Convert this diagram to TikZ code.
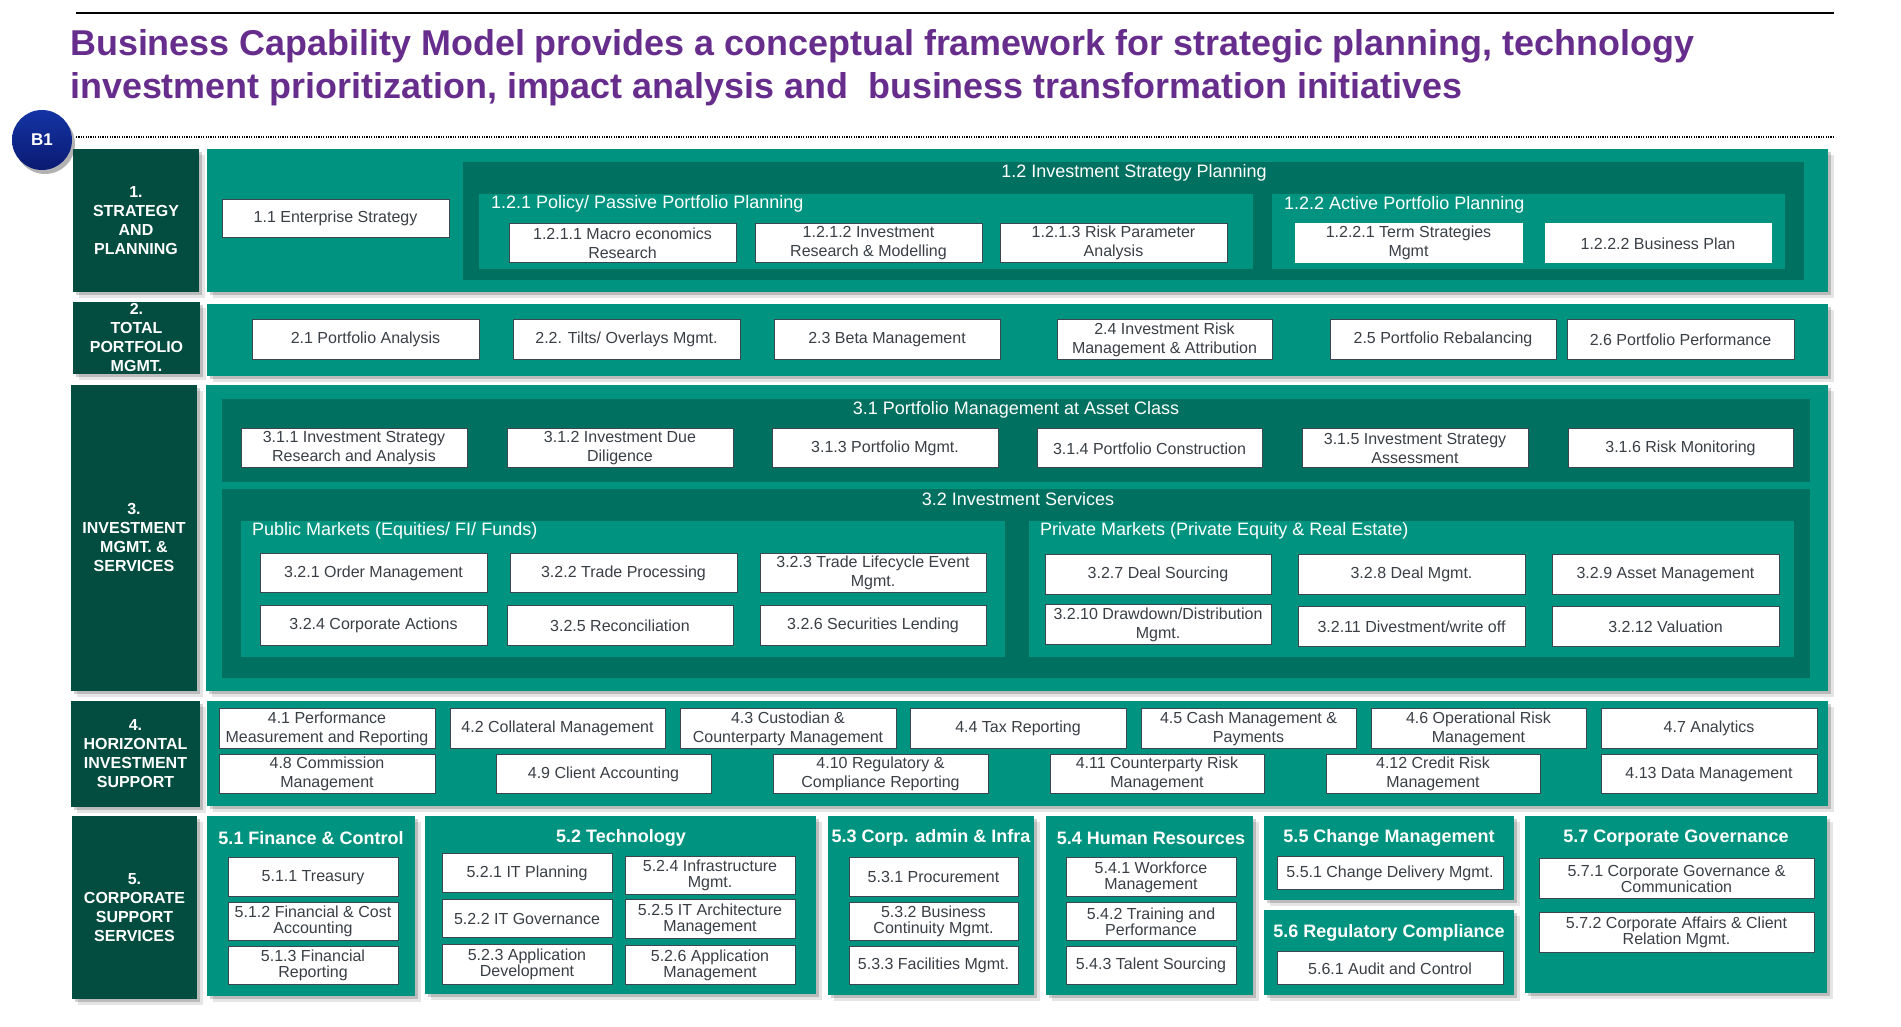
\documentclass[tikz,border=0pt]{standalone}
\usepackage{fontspec}
\setmainfont{Liberation Sans}
\usetikzlibrary{shadows}
\definecolor{tealA}{HTML}{009480}
\definecolor{tealD}{HTML}{007060}
\definecolor{lblG}{HTML}{024C40}
\definecolor{ttlP}{HTML}{662D8C}
\definecolor{bdrG}{HTML}{3C4650}
\definecolor{txtG}{HTML}{3A3F45}
\definecolor{navyA}{HTML}{1434A4}
\definecolor{navyB}{HTML}{0A1A72}
\tikzset{
  shd/.style={drop shadow={shadow xshift=3pt,shadow yshift=-3pt,opacity=0.18,fill=black},
              drop shadow={shadow xshift=6pt,shadow yshift=-6pt,opacity=0.10,fill=black}},
  cbox/.style={draw=bdrG, line width=1pt, fill=white, text=txtG, font=\fontsize{16}{19}\selectfont,
               align=center, inner sep=0pt, outer sep=0pt},
  tbox/.style={cbox, font=\fontsize{16}{16}\selectfont},
  nbox/.style={cbox, draw=white},
  lblbox/.style={fill=lblG, text=white, font=\bfseries\fontsize{16}{19}\selectfont, align=center,
                 inner sep=0pt, shd},
  rowbox/.style={fill=tealA, inner sep=0pt, shd},
  grpbox/.style={fill=tealA, inner sep=0pt, shd},
  darkbox/.style={fill=tealD, inner sep=0pt},
  subbox/.style={fill=tealA, inner sep=0pt},
  hdr/.style={text=white, font=\fontsize{18}{21}\selectfont, inner sep=0pt},
  bhdr/.style={text=white, font=\bfseries\fontsize{18}{21}\selectfont, inner sep=0pt},
}
% [style]{name}{x1}{y1}{x2}{y2}{text}
\newcommand\mybox[7][cbox]{\node[#1,minimum width={#5-#3},minimum height={#6-#4}] (#2) at ({(#3+#5)/2},{(#4+#6)/2+0.8}) {#7};}
\begin{document}
\begin{tikzpicture}[x=1pt,y=-1pt]
\useasboundingbox (0,0) rectangle (1901,1026);
\fill[white] (0,0) rectangle (1901,1026);
% title area
\coordinate (tl1) at (76,12.7);
\coordinate (tl2) at (1834,12.7);
\draw[line width=2pt] (tl1) -- (tl2);
\node[anchor=base west, text=ttlP, font=\bfseries\fontsize{35.9}{43}\selectfont, inner sep=0pt] (title1) at (70,55)
  {Business Capability Model provides a conceptual framework for strategic planning, technology};
\node[anchor=base west, text=ttlP, font=\bfseries\fontsize{35.9}{43}\selectfont, inner sep=0pt] (title2) at (70,98)
  {investment prioritization, impact analysis and \ business transformation initiatives};
\coordinate (dl1) at (76,137);
\coordinate (dl2) at (1835,137);
\draw[line width=1.3pt, dash pattern=on 1.2pt off 1.2pt] (dl1) -- (dl2);
\node[circle, minimum size=60pt, inner sep=0pt, top color=navyA, bottom color=navyB,
      drop shadow={shadow xshift=3pt,shadow yshift=-4pt,opacity=0.3,fill=black},
      text=white, font=\bfseries\fontsize{17}{20}\selectfont] (b1) at (42,140) {B1};

% ===== Row 1
\mybox[lblbox]{lab1}{73}{148}{199}{291}{1.\\STRATEGY\\AND\\PLANNING}
\mybox[rowbox]{row1}{207}{148}{1828}{291}{}
\mybox{b11}{222}{199}{449}{237}{1.1 Enterprise Strategy}
\mybox[darkbox]{d12}{463}{161}{1804}{279}{}
\mybox[subbox]{t121}{479}{193}{1253}{268}{}
\mybox[subbox]{t122}{1272}{193}{1785}{268}{}
\node[hdr] (h12) at (1134,173) {1.2 Investment Strategy Planning};
\node[hdr, anchor=west] (h121) at (491,204) {1.2.1 Policy/ Passive Portfolio Planning};
\node[hdr, anchor=west] (h122) at (1284,205) {1.2.2 Active Portfolio Planning};
\mybox{b1211}{509}{223}{736}{262}{1.2.1.1 Macro economics\\Research}
\mybox{b1212}{755}{223}{982}{262}{1.2.1.2 Investment\\Research \& Modelling}
\mybox{b1213}{1000}{223}{1227}{262}{1.2.1.3 Risk Parameter\\Analysis}
\mybox[nbox]{b1221}{1295}{223}{1522}{262}{1.2.2.1 Term Strategies\\Mgmt}
\mybox[nbox]{b1222}{1545}{223}{1771}{262}{1.2.2.2 Business Plan}

% ===== Row 2
\mybox[lblbox]{lab2}{73}{301}{200}{373}{2.\\TOTAL\\PORTFOLIO\\MGMT.}
\mybox[rowbox]{row2}{207}{303}{1828}{375}{}
\mybox{b21}{252}{319}{479}{359}{2.1 Portfolio Analysis}
\mybox{b22}{513}{319}{740}{359}{2.2. Tilts/ Overlays Mgmt.}
\mybox{b23}{774}{319}{1000}{359}{2.3 Beta Management}
\mybox{b24}{1057}{319}{1272}{359}{2.4 Investment Risk\\Management \& Attribution}
\mybox{b25}{1330}{319}{1556}{359}{2.5 Portfolio Rebalancing}
\mybox{b26}{1567}{319}{1794}{359}{2.6 Portfolio Performance}

% ===== Row 3
\mybox[lblbox]{lab3}{71}{384}{197}{690}{3.\\INVESTMENT\\MGMT. \&\\SERVICES}
\mybox[rowbox]{row3}{206}{384}{1828}{690}{}
\mybox[darkbox]{d31}{222}{398}{1810}{481}{}
\node[hdr] (h31) at (1016,410) {3.1 Portfolio Management at Asset Class};
\mybox{b311}{241}{428}{467}{467}{3.1.1 Investment Strategy\\Research and Analysis}
\mybox{b312}{507}{428}{733}{467}{3.1.2 Investment Due\\Diligence}
\mybox{b313}{772}{428}{998}{467}{3.1.3 Portfolio Mgmt.}
\mybox{b314}{1037}{428}{1262}{467}{3.1.4 Portfolio Construction}
\mybox{b315}{1302}{428}{1528}{467}{3.1.5 Investment Strategy\\Assessment}
\mybox{b316}{1568}{428}{1793}{467}{3.1.6 Risk Monitoring}
\mybox[darkbox]{d32}{222}{488}{1810}{677}{}
\node[hdr] (h32) at (1018,499) {3.2 Investment Services};
\mybox[subbox]{pub}{241}{520}{1005}{656}{}
\mybox[subbox]{priv}{1029}{520}{1794}{656}{}
\node[hdr, anchor=west] (hpub) at (252,531) {Public Markets (Equities/ FI/ Funds)};
\node[hdr, anchor=west] (hpriv) at (1040,531) {Private Markets (Private Equity \& Real Estate)};
\mybox{b321}{260}{553}{487}{592}{3.2.1 Order Management}
\mybox{b322}{510}{553}{737}{592}{3.2.2 Trade Processing}
\mybox{b323}{760}{553}{986}{592}{3.2.3 Trade Lifecycle Event\\Mgmt.}
\mybox{b324}{260}{605}{487}{645}{3.2.4 Corporate Actions}
\mybox{b325}{507}{605}{733}{645}{3.2.5 Reconciliation}
\mybox{b326}{760}{605}{986}{645}{3.2.6 Securities Lending}
\mybox{b327}{1045}{554}{1271}{594}{3.2.7 Deal Sourcing}
\mybox{b328}{1298}{554}{1525}{594}{3.2.8 Deal Mgmt.}
\mybox{b329}{1552}{554}{1779}{594}{3.2.9 Asset Management}
\mybox{b3210}{1045}{604}{1271}{644}{3.2.10 Drawdown/Distribution\\Mgmt.}
\mybox{b3211}{1298}{606}{1525}{646}{3.2.11 Divestment/write off}
\mybox{b3212}{1552}{606}{1779}{646}{3.2.12 Valuation}

% ===== Row 4
\mybox[lblbox]{lab4}{71}{700}{200}{806}{4.\\HORIZONTAL\\INVESTMENT\\SUPPORT}
\mybox[rowbox]{row4}{207}{700}{1828}{805}{}
\mybox{b41}{219}{708}{435}{748}{4.1 Performance\\Measurement and Reporting}
\mybox{b42}{450}{708}{665}{748}{4.2 Collateral Management}
\mybox{b43}{680}{708}{896}{748}{4.3 Custodian \&\\Counterparty Management}
\mybox{b44}{910}{708}{1126}{748}{4.4 Tax Reporting}
\mybox{b45}{1141}{708}{1356}{748}{4.5 Cash Management \&\\Payments}
\mybox{b46}{1371}{708}{1586}{748}{4.6 Operational Risk\\Management}
\mybox{b47}{1601}{708}{1817}{748}{4.7 Analytics}
\mybox{b48}{219}{754}{435}{793}{4.8 Commission\\Management}
\mybox{b49}{496}{754}{711}{793}{4.9 Client Accounting}
\mybox{b410}{773}{754}{988}{793}{4.10 Regulatory \&\\Compliance Reporting}
\mybox{b411}{1050}{754}{1264}{793}{4.11 Counterparty Risk\\Management}
\mybox{b412}{1326}{754}{1540}{793}{4.12 Credit Risk\\Management}
\mybox{b413}{1601}{754}{1817}{793}{4.13 Data Management}

% ===== Row 5
\mybox[lblbox]{lab5}{72}{815}{197}{998}{5.\\CORPORATE\\SUPPORT\\SERVICES}
% 5.1
\mybox[grpbox]{g51}{207}{815}{415}{995}{}
\node[bhdr] (h51) at (311,838) {5.1 Finance \& Control};
\mybox[tbox]{b511}{228}{857}{398}{896}{5.1.1 Treasury}
\mybox[tbox]{b512}{228}{902}{398}{940}{5.1.2 Financial \& Cost\\Accounting}
\mybox[tbox]{b513}{228}{946}{398}{984}{5.1.3 Financial\\Reporting}
% 5.2
\mybox[grpbox]{g52}{425}{815}{816}{993}{}
\node[bhdr] (h52) at (621,838) {5.2 Technology};
\mybox[tbox]{b521}{442}{853}{612}{892}{5.2.1 IT Planning}
\mybox[tbox]{b522}{442}{899}{612}{937}{5.2.2 IT Governance}
\mybox[tbox]{b523}{442}{944}{612}{984}{5.2.3 Application\\Development}
\mybox[tbox]{b524}{625}{856}{795}{894}{5.2.4 Infrastructure\\Mgmt.}
\mybox[tbox]{b525}{625}{899}{795}{938}{5.2.5 IT Architecture\\Management}
\mybox[tbox]{b526}{625}{945}{795}{984}{5.2.6 Application\\Management}
% 5.3
\mybox[grpbox]{g53}{828}{815}{1034}{994}{}
\node[bhdr] (h53) at (931,838) {5.3 Corp. admin \& Infra};
\mybox[tbox]{b531}{849}{857}{1018}{896}{5.3.1 Procurement}
\mybox[tbox]{b532}{849}{902}{1018}{940}{5.3.2 Business\\Continuity Mgmt.}
\mybox[tbox]{b533}{849}{946}{1018}{984}{5.3.3 Facilities Mgmt.}
% 5.4
\mybox[grpbox]{g54}{1046}{815}{1253}{994}{}
\node[bhdr] (h54) at (1151,838) {5.4 Human Resources};
\mybox[tbox]{b541}{1066}{857}{1236}{896}{5.4.1 Workforce\\Management}
\mybox[tbox]{b542}{1066}{902}{1236}{940}{5.4.2 Training and\\Performance}
\mybox[tbox]{b543}{1066}{946}{1236}{984}{5.4.3 Talent Sourcing}
% 5.5
\mybox[grpbox]{g55}{1264}{815}{1514}{899}{}
\node[bhdr] (h55) at (1389,838) {5.5 Change Management};
\mybox[tbox]{b551}{1277}{856}{1503}{889}{5.5.1 Change Delivery Mgmt.}
% 5.6
\mybox[grpbox]{g56}{1264}{909}{1514}{994}{}
\node[bhdr] (h56) at (1389,933) {5.6 Regulatory Compliance};
\mybox[tbox]{b561}{1277}{951}{1503}{984}{5.6.1 Audit and Control}
% 5.7
\mybox[grpbox]{g57}{1525}{815}{1827}{992}{}
\node[bhdr] (h57) at (1676,838) {5.7 Corporate Governance};
\mybox[tbox]{b571}{1539}{858}{1814}{898}{5.7.1 Corporate Governance \&\\Communication}
\mybox[tbox]{b572}{1539}{912}{1814}{952}{5.7.2 Corporate Affairs \& Client\\Relation Mgmt.}
\end{tikzpicture}
\end{document}
